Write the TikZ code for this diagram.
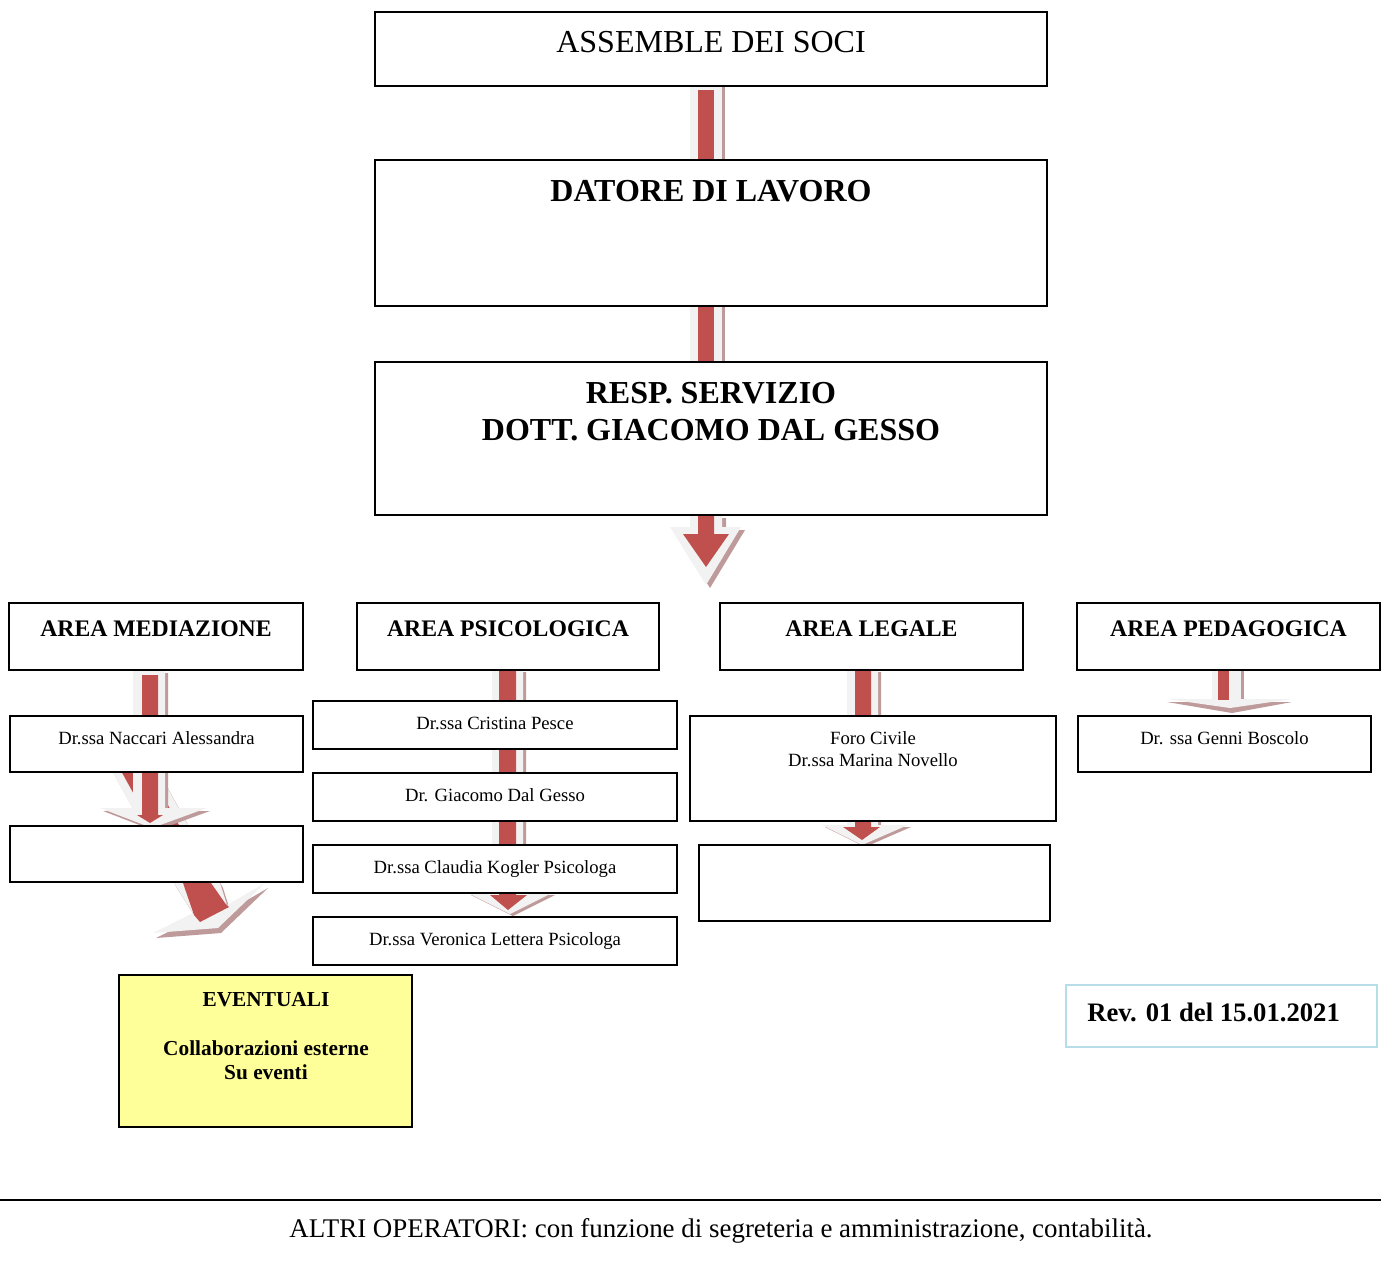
\documentclass[tikz,border=0pt]{standalone}
\usepackage{fontspec}
\setmainfont{Liberation Serif}
\usetikzlibrary{fit}
\pgfdeclarelayer{background}
\pgfsetlayers{background,main}
\definecolor{redc}{HTML}{C0504D}
\definecolor{rimc}{HTML}{F2F2F2}
\definecolor{shadc}{HTML}{BF9A9A}
\definecolor{yelc}{HTML}{FFFF99}
\definecolor{bluec}{HTML}{B7DDE8}
\begin{document}
\begin{tikzpicture}[x=0.75pt,y=-0.75pt,
  box/.style={draw=black,line width=1.4pt,fill=white,inner sep=0pt},
  yelbox/.style={box,fill=yelc},
  revbox/.style={draw=bluec,line width=1.5pt,fill=white,inner sep=0pt},
  lbl/.style={anchor=base,inner sep=0pt},
  fbig/.style={font=\fontsize{24}{28}\selectfont},
  fbigb/.style={font=\fontsize{24}{28}\selectfont\bfseries},
  farea/.style={font=\fontsize{17.8}{21}\selectfont\bfseries},
  fname/.style={font=\fontsize{14}{17}\selectfont},
  fev/.style={font=\fontsize{16}{19}\selectfont\bfseries},
  frev/.style={font=\fontsize{20}{24}\selectfont\bfseries},
  falt/.style={font=\fontsize{20.2}{24}\selectfont},
  shadowfill/.style={fill=shadc},
  rimfill/.style={fill=rimc},
  redfill/.style={fill=redc}
]
\useasboundingbox (0,0) rectangle (1381,1265);

% ---------- boxes ----------
\node[box, fit={(375,12)(1047,86)}] (assemble) {};
\node[box, fit={(375,160)(1047,306)}] (datore) {};
\node[box, fit={(375,362)(1047,515)}] (resp) {};

\node[box, fit={(9,603)(303,670)}] (amed) {};
\node[box, fit={(357,603)(659,670)}] (apsi) {};
\node[box, fit={(720,603)(1023,670)}] (aleg) {};
\node[box, fit={(1077,603)(1380,670)}] (aped) {};

\node[box, fit={(10,716)(303,772)}] (naccari) {};
\node[box, fit={(10,826)(303,882)}] (medempty) {};

\node[box, fit={(313,701)(677,749)}] (pesce) {};
\node[box, fit={(313,773)(677,821)}] (giacomo) {};
\node[box, fit={(313,845)(677,893)}] (kogler) {};
\node[box, fit={(313,917)(677,965)}] (lettera) {};

\node[box, fit={(690,716)(1056,821)}] (foro) {};
\node[box, fit={(699,845)(1050,921)}] (legempty) {};

\node[box, fit={(1078,716)(1371,772)}] (boscolo) {};

\node[yelbox, fit={(119,975)(412,1127)}] (eventuali) {};
\node[revbox, fit={(1066,985)(1377,1047)}] (rev) {};

\coordinate (lineL) at (0,1200);
\coordinate (lineR) at (1381,1200);
\draw[line width=1.4pt] (lineL) -- (lineR);

% ---------- texts ----------
\node[lbl,fbig] (tass) at (711,52) {ASSEMBLE DEI SOCI};
\node[lbl,fbigb] (tdat) at (711,201) {DATORE DI LAVORO};
\node[lbl,fbigb] (tresp1) at (711,403) {RESP. SERVIZIO};
\node[lbl,fbigb] (tresp2) at (711,440) {DOTT. GIACOMO DAL GESSO};

\node[lbl,farea] (tamed) at (156,636) {AREA MEDIAZIONE};
\node[lbl,farea] (tapsi) at (508,636) {AREA PSICOLOGICA};
\node[lbl,farea] (taleg) at (871.5,636) {AREA LEGALE};
\node[lbl,farea] (taped) at (1228.5,636) {AREA PEDAGOGICA};

\node[lbl,fname] (tnac) at (156.5,744) {Dr.ssa Naccari Alessandra};
\node[lbl,fname] (tpes) at (495,729) {Dr.ssa Cristina Pesce};
\node[lbl,fname] (tgia) at (495,801) {Dr. Giacomo Dal Gesso};
\node[lbl,fname] (tkog) at (495,873) {Dr.ssa Claudia Kogler Psicologa};
\node[lbl,fname] (tlet) at (495,945) {Dr.ssa Veronica Lettera Psicologa};
\node[lbl,fname] (tforo1) at (873,744) {Foro Civile};
\node[lbl,fname] (tforo2) at (873,766) {Dr.ssa Marina Novello};
\node[lbl,fname] (tbos) at (1224.5,744) {Dr. ssa Genni Boscolo};

\node[lbl,fev] (tev1) at (266,1006) {EVENTUALI};
\node[lbl,fev] (tev2) at (266,1055) {Collaborazioni esterne};
\node[lbl,fev] (tev3) at (266,1079) {Su eventi};

\node[lbl,frev,anchor=base west] (trev) at (1087,1021) {Rev. 01 del 15.01.2021};

\node[lbl,falt] (talt) at (721,1237) {ALTRI OPERATORI: con funzione di segreteria e amministrazione, contabilità.};

% ---------- block arrows (behind boxes) ----------
\begin{pgfonlayer}{background}
% assemble -> datore
\fill[shadowfill] (722,86) rectangle (725,160);
\fill[rimfill] (690,86) rectangle (722,160);
\fill[redfill] (698,90) rectangle (714,160);
% datore -> resp
\fill[shadowfill] (722,306) rectangle (725,362);
\fill[rimfill] (690,306) rectangle (722,362);
\fill[redfill] (698,306) rectangle (714,362);
% resp -> areas
\fill[shadowfill,shift={(4,3)}] (690,515) -- (722,515) -- (722,527) -- (741,527) -- (706,585) -- (670,527) -- (690,527) -- cycle;
\fill[rimfill] (690,515) -- (722,515) -- (722,527) -- (741,527) -- (706,585) -- (670,527) -- (690,527) -- cycle;
\fill[redfill] (698,515) -- (714,515) -- (714,534) -- (729,534) -- (706,567) -- (683,534) -- (698,534) -- cycle;

% mediazione diagonal arrow (towards eventuali)
\fill[shadowfill,shift={(3,5)}] (106,760) -- (152,760) -- (220,883) -- (227,905) -- (265,883) -- (218,928) -- (153,933) -- (193,913) -- (174,883) -- cycle;
\fill[rimfill] (106,760) -- (152,760) -- (220,883) -- (227,905) -- (265,883) -- (218,928) -- (153,933) -- (193,913) -- (174,883) -- cycle;
\fill[redfill] (115,760) -- (143,760) -- (211,883) -- (225,903) -- (229,907) -- (200,922) -- (194,915) -- (183,883) -- cycle;

% mediazione vertical arrow
\fill[shadowfill,shift={(3,3)}] (133,670) -- (165,670) -- (165,808) -- (207,808) -- (152,828) -- (100,808) -- (133,808) -- cycle;
\fill[rimfill] (133,670) -- (165,670) -- (165,808) -- (207,808) -- (152,828) -- (100,808) -- (133,808) -- cycle;
\fill[redfill] (142,675) -- (158,675) -- (158,815) -- (163,815) -- (150,823) -- (137,815) -- (142,815) -- cycle;

% psicologica arrow
\fill[shadowfill,shift={(3,2)}] (492,670) -- (523,670) -- (523,893) -- (552,893) -- (510,914) -- (468,893) -- (492,893) -- cycle;
\fill[rimfill] (492,670) -- (523,670) -- (523,893) -- (552,893) -- (510,914) -- (468,893) -- (492,893) -- cycle;
\fill[redfill] (499,670) -- (516,670) -- (516,895) -- (527,895) -- (508,910) -- (490,895) -- (499,895) -- cycle;

% legale arrow
\fill[shadowfill,shift={(3,2)}] (847,670) -- (878,670) -- (878,825) -- (908,825) -- (862,845) -- (822,825) -- (847,825) -- cycle;
\fill[rimfill] (847,670) -- (878,670) -- (878,825) -- (908,825) -- (862,845) -- (822,825) -- (847,825) -- cycle;
\fill[redfill] (855,670) -- (871,670) -- (871,827) -- (880,827) -- (862,840) -- (843,827) -- (855,827) -- cycle;

% pedagogica arrow
\fill[shadowfill] (1241,670) rectangle (1244,700);
\fill[rimfill] (1212,670) rectangle (1241,700);
\fill[shadowfill] (1167,702) -- (1292,702) -- (1232,713) -- cycle;
\fill[rimfill] (1167,699) -- (1292,699) -- (1230,708) -- cycle;
\fill[rimfill] (1212,670) rectangle (1241,700);
\fill[redfill] (1218,670) rectangle (1229,700);
\end{pgfonlayer}
\end{tikzpicture}
\end{document}
